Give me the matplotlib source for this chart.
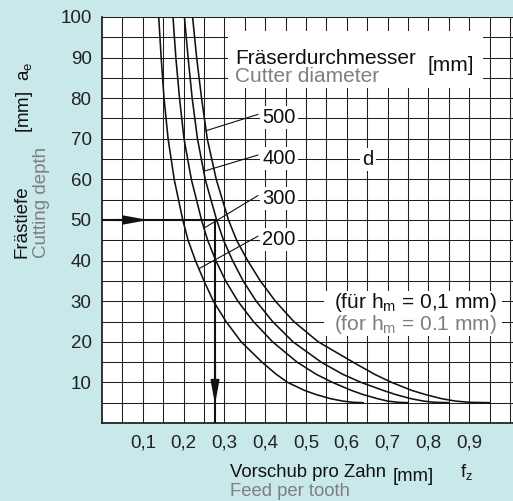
import numpy as np
import matplotlib.pyplot as plt
from matplotlib.patches import Rectangle

plt.rcParams['font.family'] = ['Liberation Sans', 'DejaVu Sans']
plt.rcParams['mathtext.fontset'] = 'custom'
plt.rcParams['mathtext.rm'] = 'Liberation Sans'
plt.rcParams['mathtext.it'] = 'Liberation Sans'

# cutting depth a_e [mm] and feed per tooth f_z [mm]
ae = [100, 90, 80, 70, 60, 50, 45, 40, 35, 30, 25, 20, 15, 12, 10, 8, 7, 6, 5.4, 5.1, 5.0]
diameters = [200, 300, 400, 500]
fz_200 = [0.139, 0.145, 0.152, 0.162, 0.177, 0.198, 0.211, 0.229, 0.250, 0.273, 0.304,
          0.341, 0.392, 0.427, 0.455, 0.497, 0.525, 0.560, 0.590, 0.615, 0.640]
fz_300 = [0.174, 0.181, 0.190, 0.201, 0.219, 0.244, 0.259, 0.279, 0.303, 0.333, 0.371,
          0.418, 0.478, 0.525, 0.565, 0.612, 0.640, 0.675, 0.700, 0.725, 0.750]
fz_400 = [0.202, 0.211, 0.221, 0.234, 0.253, 0.281, 0.298, 0.320, 0.346, 0.378, 0.418,
          0.468, 0.537, 0.590, 0.635, 0.690, 0.720, 0.757, 0.788, 0.815, 0.850]
fz_500 = [0.222, 0.232, 0.244, 0.258, 0.280, 0.310, 0.330, 0.357, 0.388, 0.425, 0.470,
          0.530, 0.615, 0.668, 0.710, 0.760, 0.793, 0.832, 0.866, 0.900, 0.950]
fz_curves = [fz_200, fz_300, fz_400, fz_500]
leader_ae = [38, 48, 62, 72]      # where the label leaders touch the curves
label_ae = [45, 55, 65, 75]

x_ticks = [0.1, 0.2, 0.3, 0.4, 0.5, 0.6, 0.7, 0.8, 0.9]
x_labels = ['0,1', '0,2', '0,3', '0,4', '0,5', '0,6', '0,7', '0,8', '0,9']
y_ticks = [10, 20, 30, 40, 50, 60, 70, 80, 90, 100]

example_ae = 50
example_fz = 0.277

bg = '#c8e8ea'
grey = '#7f7f7f'
ink = '#111111'
W, H = 513, 501

fig = plt.figure(figsize=(W / 100, H / 100), dpi=100, facecolor=bg)
ax = fig.add_axes([102 / W, 78 / H, 411 / W, 406 / H])
ax.set_facecolor('white')
ax.set_xlim(0, 411 / 408)
ax.set_ylim(0, 100)

ax.set_xticks(x_ticks)
ax.set_xticklabels(x_labels)
ax.set_xticks(np.arange(0.05, 1.01, 0.05), minor=True)
ax.set_yticks(y_ticks)
ax.set_yticks(np.arange(5, 100, 5), minor=True)
ax.grid(which='both', color='#1e1e1e', lw=0.75)
ax.tick_params(which='both', length=0)
ax.tick_params(axis='y', pad=7.5, labelsize=13.5, colors='#222222')
ax.tick_params(axis='x', pad=8, labelsize=13.5, colors='#222222')
for s in ['top', 'right']:
    ax.spines[s].set_visible(False)
for s in ['left', 'bottom']:
    ax.spines[s].set_linewidth(1.3)
    ax.spines[s].set_color('#222222')

# curves
for fz in fz_curves:
    ax.plot(fz, ae, color=ink, lw=1.15, zorder=3)

# leaders and diameter labels
for fz, d, la, lab in zip(fz_curves, diameters, leader_ae, label_ae):
    x0 = np.interp(la, ae[::-1], fz[::-1])
    ax.plot([x0, 0.382], [la, lab + 1.0], color=ink, lw=0.8, zorder=3)
    ax.text(0.434, lab + 0.2, str(d), ha='center', va='center', fontsize=14.5,
            color=ink, zorder=4,
            bbox=dict(boxstyle='square,pad=0.1', fc='white', ec='none'))

ax.text(0.652, 64.9, 'd', ha='center', va='center', fontsize=14.5, color=ink,
        zorder=4, bbox=dict(boxstyle='square,pad=0.12', fc='white', ec='none'))

# legend box top
ax.add_patch(Rectangle((0.31, 82.6), 0.625, 14.0, fc='white', ec='none', zorder=2))
ax.text(0.327, 89.8, 'Fräserdurchmesser', fontsize=15, va='center', color=ink, zorder=4)
ax.text(0.327, 85.3, 'Cutter diameter', fontsize=15, va='center', color=grey, zorder=4)
ax.text(0.797, 88.0, '[mm]', fontsize=15, va='center', color=ink, zorder=4)

# h_m note
ax.add_patch(Rectangle((0.545, 21.4), 0.435, 11.0, fc='white', ec='none', zorder=2))
ax.text(0.968, 29.6, r'(für h$_\mathrm{m}$ = 0,1 mm)', fontsize=15, ha='right', va='center',
        color=ink, zorder=4)
ax.text(0.968, 24.3, r'(for h$_\mathrm{m}$ = 0.1 mm)', fontsize=15, ha='right', va='center',
        color=grey, zorder=4)

# reading example
ax.plot([0, example_fz, example_fz], [example_ae, example_ae, 0], color=ink,
        lw=1.5, zorder=3, solid_joinstyle='miter')
arrow = dict(arrowstyle='-|>,head_length=1.35,head_width=0.25', fc=ink, ec=ink,
             lw=1.5, shrinkA=0, shrinkB=0)
ax.annotate('', xy=(0.113, example_ae), xytext=(0.03, example_ae), arrowprops=arrow, zorder=4)
ax.annotate('', xy=(example_fz, 4.6), xytext=(example_fz, 15), arrowprops=arrow, zorder=4)

# axis titles
def ftext(px, py, s, **kw):
    fig.text(px / W, 1 - py / H, s, **kw)

ftext(27, 258, 'Frästiefe', rotation=90, rotation_mode='anchor', ha='left', va='baseline',
      fontsize=13.5, color=ink)
ftext(45.5, 258, 'Cutting depth', rotation=90, rotation_mode='anchor', ha='left', va='baseline',
      fontsize=13.5, color=grey)
ftext(29, 133, r'[mm]  a$_\mathrm{e}$', rotation=90, rotation_mode='anchor', ha='left',
      va='baseline', fontsize=13.5, color=ink)

ftext(230, 477, 'Vorschub pro Zahn', ha='left', va='baseline', fontsize=13.3, color=ink)
ftext(230, 496, 'Feed per tooth', ha='left', va='baseline', fontsize=13.3, color=grey)
ftext(393, 481, '[mm]', ha='left', va='baseline', fontsize=13.3, color=ink)
ftext(460, 477, r'f$_\mathrm{z}$', ha='left', va='baseline', fontsize=13.3, color=ink)

fig.savefig('out.png', dpi=100, facecolor=bg)
